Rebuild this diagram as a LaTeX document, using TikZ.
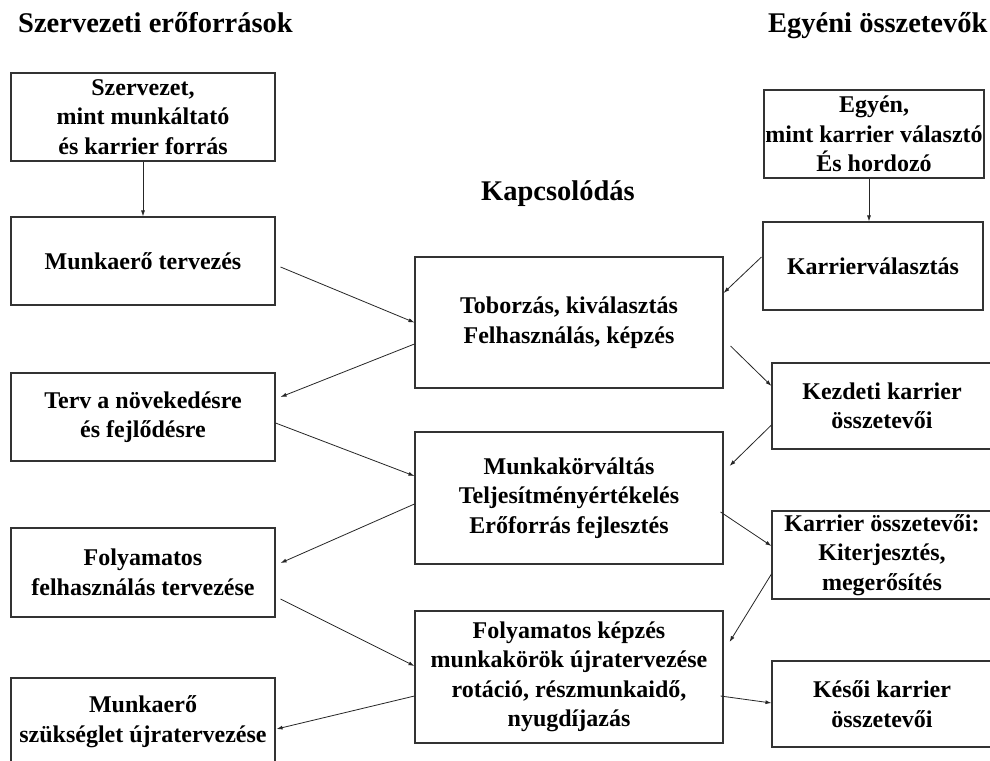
\documentclass[tikz,border=0pt]{standalone}
\usepackage{fontspec}
\setmainfont{Liberation Serif}
\usetikzlibrary{arrows.meta}
\begin{document}
\begin{tikzpicture}[x=1pt,y=-1pt,
  box/.style={draw=black!80, line width=1.1pt, inner sep=0pt, align=center,
    font=\fontsize{24}{29.5}\selectfont\bfseries},
  lbox/.style={box, minimum width=264pt, minimum height=88pt},
  mbox/.style={box, minimum width=308pt, minimum height=132pt},
  rbox/.style={box, minimum width=220pt, minimum height=88pt},
  heading/.style={inner sep=0pt, font=\fontsize{28.5}{33}\selectfont\bfseries},
  link/.style={draw=black!85, line width=0.8pt, -{Latex[length=6pt,width=4pt]}}]
\useasboundingbox (0,0) rectangle (990,760);
\fill[white] (0,0) rectangle (990,760);

% column headings
\node[heading, anchor=base west] (hleft) at (18,33) {Szervezeti erőforrások};
\node[heading, anchor=base west] (hright) at (768,33) {Egyéni összetevők};
\node[heading, anchor=base] (hmid) at (558,200) {Kapcsolódás};

% organisational column
\node[lbox] (A) at (143,117) {Szervezet,\\ mint munkáltató\\ és karrier forrás};
\node[lbox] (B) at (143,261) {Munkaerő tervezés};
\node[lbox] (C) at (143,417) {Terv a növekedésre\\ és fejlődésre};
\node[lbox, minimum height=89pt] (D) at (143,572.5) {Folyamatos\\ felhasználás tervezése};
\node[lbox, minimum height=87pt] (E) at (143,721.5) {Munkaerő\\ szükséglet újratervezése};

% linking column
\node[mbox, minimum height=131pt] (M1) at (569,322.5) {Toborzás, kiválasztás\\ Felhasználás, képzés};
\node[mbox] (M2) at (569,498) {Munkakörváltás\\ Teljesítményértékelés\\ Erőforrás fejlesztés};
\node[mbox] (M3) at (569,677) {Folyamatos képzés\\ munkakörök újratervezése\\ rotáció, részmunkaidő,\\ nyugdíjazás};

% individual column
\node[rbox] (R0) at (874,134) {Egyén,\\ mint karrier választó\\ És hordozó};
\node[rbox] (R1) at (873,266) {Karrierválasztás};
\node[rbox, minimum height=86pt] (R2) at (882,406) {Kezdeti karrier\\ összetevői};
\node[rbox] (R3) at (882,555) {Karrier összetevői:\\ Kiterjesztés,\\ megerősítés};
\node[rbox, minimum height=86pt] (R4) at (882,704) {Késői karrier\\ összetevői};

% connectors
\draw[link] (A.south) -- (B.north);
\draw[link] ([xshift=-5]R0.south) -- ([xshift=-4]R1.north);
\draw[link] ([shift={(5,6)}]B.east) -- (M1.west);
\draw[link] ([shift={(0,21.5)}]M1.west) -- ([shift={(5,-20)}]C.east);
\draw[link] ([shift={(0,6)}]C.east) -- ([shift={(0,-22)}]M2.west);
\draw[link] ([shift={(0,6)}]M2.west) -- ([shift={(5,-9.5)}]D.east);
\draw[link] ([shift={(5,26.5)}]D.east) -- ([shift={(0,-11)}]M3.west);
\draw[link] ([shift={(0,19)}]M3.west) -- ([shift={(1,7.5)}]E.east);
\draw[link] ([shift={(-1,-9)}]R1.west) -- ([shift={(0,-29.5)}]M1.east);
\draw[link] ([shift={(7,23.5)}]M1.east) -- ([shift={(0,-20)}]R2.west);
\draw[link] ([shift={(0,19)}]R2.west) -- ([shift={(6,-32)}]M2.east);
\draw[link] ([shift={(-3,14)}]M2.east) -- ([shift={(0,-9)}]R3.west);
\draw[link] ([shift={(0,19)}]R3.west) -- ([shift={(6,-35)}]M3.east);
\draw[link] ([shift={(-3,19)}]M3.east) -- ([shift={(0,-1)}]R4.west);
\end{tikzpicture}
\end{document}
